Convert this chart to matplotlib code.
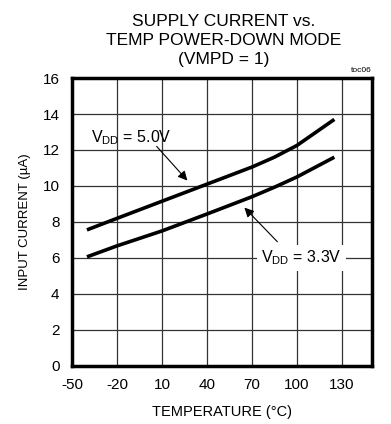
import numpy as np
import matplotlib.pyplot as plt

plt.rcParams['font.family'] = ['Liberation Sans', 'DejaVu Sans']
plt.rcParams['axes.unicode_minus'] = False

temp = [-40, -20, 10, 40, 70, 85, 100, 125]
i_50 = [7.56, 8.2, 9.15, 10.1, 11.05, 11.6, 12.25, 13.7]
i_33 = [6.06, 6.67, 7.5, 8.44, 9.4, 9.93, 10.5, 11.6]

xticks = [-50, -20, 10, 40, 70, 100, 130]
yticks = [0, 2, 4, 6, 8, 10, 12, 14, 16]

fig = plt.figure(figsize=(3.91, 4.24), dpi=100)
ax = fig.add_axes([0.184, 0.137, 0.767, 0.679])

ax.plot(temp, i_50, color='black', lw=2.6, solid_capstyle='butt')
ax.plot(temp, i_33, color='black', lw=2.6, solid_capstyle='butt')

ax.set_xlim(-50, 150)
ax.set_ylim(0, 16)
ax.set_xticks(xticks)
ax.set_yticks(yticks)
ax.grid(True, color='#333333', lw=0.9)
ax.tick_params(length=0, labelsize=11, pad=9)
for s in ax.spines.values():
    s.set_linewidth(2.5)

ax.set_xlabel('TEMPERATURE (°C)', fontsize=10.5, labelpad=9)
ax.set_ylabel('INPUT CURRENT (µA)', fontsize=9.5, labelpad=8)

# labels
ax.text(-37, 12.7, '$\\mathregular{V_{DD}}$ = 5.0V', fontsize=11.5, va='center')
ax.text(103, 6.0, '$\\mathregular{V_{DD}}$ = 3.3V', fontsize=11.5, va='center', ha='center',
        bbox=dict(boxstyle='square,pad=0.25', fc='white', ec='none'))

# arrows
ax.annotate('', xy=(27, 10.3), xytext=(6.5, 12.2),
            arrowprops=dict(arrowstyle='-|>', color='black', lw=0.8, mutation_scale=14,
                            shrinkA=0, shrinkB=0))
ax.annotate('', xy=(65, 8.8), xytext=(87, 6.9),
            arrowprops=dict(arrowstyle='-|>', color='black', lw=0.8, mutation_scale=14,
                            shrinkA=0, shrinkB=0))

fig.text(0.951, 0.826, 'toc06', fontsize=6, ha='right', va='bottom')
fig.text(0.572, 0.842, 'SUPPLY CURRENT vs.\nTEMP POWER-DOWN MODE\n(VMPD = 1)',
         fontsize=12.5, ha='center', va='bottom', linespacing=1.32)

fig.savefig('out.png', dpi=100)
